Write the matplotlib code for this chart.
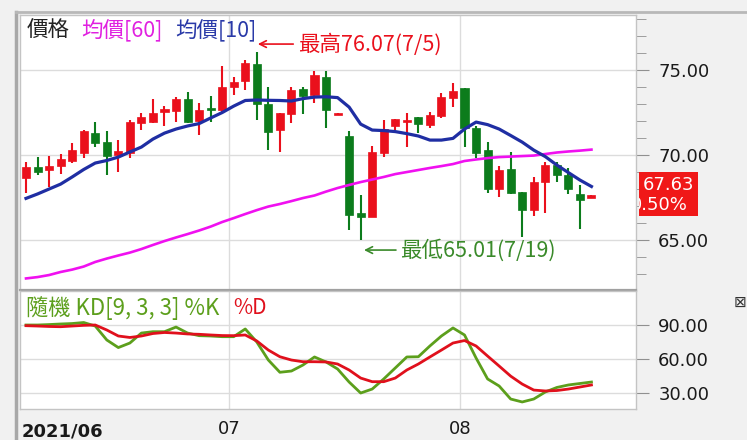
import matplotlib
matplotlib.use('Agg')
import matplotlib.pyplot as plt
from matplotlib.ticker import MultipleLocator, FixedLocator

#---------------------------------------------------
#----------------------- data ----------------------
#---------------------------------------------------
opens = [68.63, 69.28, 69.12, 69.34, 69.63, 70.12, 71.31, 70.79, 70.00, 70.10,
         71.90, 71.96, 72.51, 72.61, 73.28, 72.00, 72.76, 72.65, 74.02, 74.35,
         75.34, 72.98, 71.47, 72.41, 73.86, 73.53, 74.61, 72.38, 71.14, 66.61,
         66.37, 70.10, 71.71, 71.96, 72.25, 71.76, 72.29, 73.34, 73.92, 71.57,
         70.29, 68.00, 69.18, 67.84, 66.75, 68.43, 69.41, 68.82, 67.71, 67.45]
closes = [69.28, 69.00, 69.38, 69.79, 70.29, 71.43, 70.69, 69.94, 70.21, 71.96,
          72.25, 72.45, 72.71, 73.29, 71.96, 72.65, 72.65, 73.98, 74.31, 75.43,
          72.98, 71.37, 72.45, 73.82, 73.47, 74.71, 72.65, 72.44, 66.47, 66.37,
          70.19, 71.51, 72.10, 72.06, 71.82, 72.35, 73.43, 73.78, 71.57, 70.14,
          68.00, 69.12, 67.75, 66.75, 68.43, 69.41, 68.82, 67.98, 67.35, 67.63]
highs = [69.61, 69.88, 69.97, 70.08, 70.69, 71.47, 71.96, 71.43, 70.88, 72.06,
         72.49, 73.28, 72.88, 73.43, 73.72, 73.04, 73.47, 75.24, 74.61, 75.59,
         76.07, 74.02, 72.45, 74.02, 74.02, 74.94, 74.94, 72.47, 71.41, 67.65,
         70.53, 72.06, 72.10, 72.45, 72.25, 72.55, 73.66, 74.22, 73.92, 71.71,
         70.78, 69.35, 70.19, 67.84, 68.71, 69.59, 69.61, 69.22, 68.24, 67.63]
lows = [67.78, 68.82, 68.14, 68.88, 69.51, 69.81, 70.49, 68.82, 69.02, 69.82,
        71.47, 71.86, 71.71, 71.96, 71.90, 71.18, 71.96, 72.55, 73.53, 73.82,
        72.06, 70.29, 70.18, 71.90, 72.41, 73.04, 71.57, 72.35, 65.59, 65.01,
        66.37, 69.86, 71.47, 70.49, 71.31, 71.57, 72.16, 72.81, 70.45, 69.82,
        67.79, 67.55, 67.71, 65.15, 66.44, 66.57, 68.43, 67.71, 65.63, 67.45]

# moving averages
ma10 = [67.45, 67.71, 68.00, 68.29, 68.71, 69.15, 69.53, 69.68, 69.88, 70.18,
        70.47, 70.94, 71.29, 71.53, 71.71, 71.85, 72.18, 72.50, 72.88, 73.21,
        73.24, 73.22, 73.21, 73.18, 73.32, 73.41, 73.43, 73.38, 72.82, 71.82,
        71.47, 71.44, 71.38, 71.26, 71.12, 70.88, 70.88, 70.98, 71.53, 71.94,
        71.79, 71.53, 71.15, 70.76, 70.29, 69.91, 69.41, 68.97, 68.53, 68.15]
ma60 = [62.74, 62.82, 62.94, 63.12, 63.26, 63.44, 63.71, 63.91, 64.09, 64.26,
        64.47, 64.71, 64.94, 65.15, 65.35, 65.56, 65.79, 66.06, 66.29, 66.53,
        66.76, 66.97, 67.12, 67.29, 67.47, 67.62, 67.85, 68.06, 68.24, 68.41,
        68.56, 68.71, 68.88, 69.00, 69.12, 69.24, 69.35, 69.47, 69.65, 69.74,
        69.82, 69.88, 69.91, 69.94, 69.97, 70.06, 70.15, 70.21, 70.26, 70.32]

# stochastic KD[9,3,3]
k_line = [90.0, 90.0, 90.4, 90.9, 91.3, 92.2, 89.1, 76.8, 70.1, 74.1,
          82.9, 84.1, 84.1, 88.2, 82.9, 80.6, 80.3, 79.7, 79.7, 86.5,
          75.0, 59.1, 48.3, 49.4, 54.7, 61.8, 57.4, 51.2, 39.7, 30.0,
          33.5, 42.4, 52.1, 61.8, 62.0, 71.5, 80.3, 87.4, 81.2, 60.9,
          42.4, 36.2, 24.7, 22.1, 24.7, 30.9, 34.9, 37.1, 38.4, 39.7]
d_line = [89.4, 89.1, 88.7, 88.5, 89.1, 89.7, 90.0, 85.6, 80.3, 79.0,
          80.3, 82.5, 83.4, 82.9, 82.1, 81.8, 81.2, 80.7, 80.6, 81.2,
          75.9, 67.9, 62.0, 59.1, 57.6, 57.6, 57.4, 55.6, 50.3, 43.2,
          40.0, 40.0, 43.2, 50.3, 55.6, 61.8, 67.9, 74.1, 76.3, 71.5,
          62.6, 53.8, 44.9, 37.9, 32.6, 31.8, 32.2, 33.5, 35.3, 37.1]

# first candle index of each new month
month_first_idx = [18, 38]
month_labels = ['07', '08']
start_label = '2021/06'

price_ticks = [65, 70, 75]
kd_ticks = [30, 60, 90]

high_text = '最高76.07(7/5)'
low_text = '最低65.01(7/19)'
last_price = '67.63'
last_change = '0.50%'

#---------------------------------------------------
#---------------------- styles ---------------------
#---------------------------------------------------
W, H = 747, 440
RED = '#ea101c'
GREEN = '#0c7c1c'
BLUE = '#1f2ea3'
MAGENTA = '#f010f0'
K_GREEN = '#5c9f1c'
D_RED = '#e0101c'
GRID = '#dcdcdc'
CJK = ['Noto Sans CJK TC', 'DejaVu Sans']


def fx(x):
    return x / W


def fy(y):
    return 1 - y / H


fig = plt.figure(figsize=(W / 100, H / 100), dpi=100)
fig.patch.set_facecolor('#f1f1f1')

ax1 = fig.add_axes([fx(20), fy(290), fx(616), 275 / H])
ax2 = fig.add_axes([fx(20), fy(409), fx(616), 118 / H])

n = len(opens)
xs = list(range(n))
month_grid = [m - 0.4 for m in month_first_idx]

for ax in (ax1, ax2):
    ax.set_facecolor('white')
    ax.set_xlim(-0.52, 52.86)
    for s in ax.spines.values():
        s.set_color('#c4c4c4')
        s.set_linewidth(1)
    ax.yaxis.tick_right()
    ax.set_xticks([])
    for m in month_grid:
        ax.axvline(m, color=GRID, lw=1, zorder=0)
    ax.tick_params(axis='y', which='both', direction='out', colors='#909090',
                   labelcolor='#1a1a1a', labelsize=13, pad=7)
    ax.tick_params(axis='y', which='major', length=9)
    ax.tick_params(axis='y', which='minor', length=7)

ax1.spines['bottom'].set_color('#a0a0a0')
ax1.spines['bottom'].set_linewidth(1.6)

#----------------------- price panel ----------------------
ax1.set_ylim(62.06, 78.24)
ax1.yaxis.set_major_locator(FixedLocator(price_ticks))
ax1.yaxis.set_minor_locator(MultipleLocator(1))
ax1.set_yticklabels(['%.2f' % t for t in price_ticks])
for t in price_ticks:
    ax1.axhline(t, color=GRID, lw=1, zorder=0)

for i in xs:
    o, c, h, l = opens[i], closes[i], highs[i], lows[i]
    col = RED if c >= o else GREEN
    ax1.vlines(i, l, h, color=col, lw=1.5, zorder=2)
    body = max(abs(c - o), 0.09)
    ax1.bar(i, body, bottom=min(o, c), width=0.7, color=col, edgecolor=col,
            lw=0.5, zorder=3)

ax1.plot(xs, ma60, color=MAGENTA, lw=1.9, zorder=4)
ax1.plot(xs, ma10, color=BLUE, lw=2.3, zorder=5)

# high / low annotations
ax1.annotate('', xy=(19.85, 76.53), xytext=(23.4, 76.53),
             arrowprops=dict(arrowstyle='->', color=RED, lw=1.2, mutation_scale=12))
ax1.text(23.55, 76.53, high_text, color=RED, fontsize=15.5, family=CJK,
         va='center', ha='left')
ax1.annotate('', xy=(29.05, 64.41), xytext=(32.3, 64.41),
             arrowprops=dict(arrowstyle='->', color='#3a8a2a', lw=1.2, mutation_scale=12))
ax1.text(32.45, 64.41, low_text, color='#3a8a2a', fontsize=15.5, family=CJK,
         va='center', ha='left')

# legend texts
fig.text(fx(27), fy(31), '價格', color='#222222', fontsize=15.5, family=CJK, va='center')
fig.text(fx(81), fy(31), '均價[60]', color='#e020e0', fontsize=15.5, family=CJK, va='center')
fig.text(fx(175), fy(31), '均價[10]', color='#2a3aa8', fontsize=15.5, family=CJK, va='center')

#----------------------- KD panel ----------------------
ax2.set_ylim(15.9, 120)
ax2.yaxis.set_major_locator(FixedLocator(kd_ticks))
ax2.set_yticklabels(['%.2f' % t for t in kd_ticks])
for t in kd_ticks:
    ax2.axhline(t, color=GRID, lw=1, zorder=0)
ax2.plot(xs, k_line, color=K_GREEN, lw=2.0, zorder=3)
ax2.plot(xs, d_line, color=D_RED, lw=2.0, zorder=4)

fig.text(fx(26), fy(308), '隨機 KD[9, 3, 3] %K', color=K_GREEN, fontsize=16,
         family=CJK, va='center')
fig.text(fx(233), fy(308), '%D', color=D_RED, fontsize=15, family=CJK, va='center')

#----------------------- x labels ----------------------
fig.text(fx(22), fy(436), start_label, fontsize=13, fontweight='bold',
         color='#1a1a1a', va='baseline')
for m, lab in zip(month_grid, month_labels):
    xp = ax1.transData.transform((m, 0))[0]
    fig.text(xp / fig.bbox.width, fy(434), lab, fontsize=13, color='#1a1a1a',
             ha='center', va='baseline')

#----------------------- last price box ----------------------
box = fig.add_axes([fx(639), fy(216), fx(59), 44 / H])
box.set_facecolor('#f01818')
box.set_xlim(0, 1)
box.set_ylim(0, 1)
box.set_xticks([])
box.set_yticks([])
for s in box.spines.values():
    s.set_visible(False)
box.text(0.07, 0.70, last_price, color='white', fontsize=13, va='center',
         ha='left', clip_on=True)
box.text(-0.13, 0.26, last_change, color='white', fontsize=13, va='center',
         ha='left', clip_on=True)

# window frame lines and close icon
fig.add_artist(plt.Line2D([fx(16), fx(16)], [fy(12), fy(440)], color='#a8a8a8', lw=2.5))
fig.add_artist(plt.Line2D([fx(16), 1], [fy(12), fy(12)], color='#b8b8b8', lw=2))
fig.text(fx(740), fy(302), '⊠', fontsize=11, color='#333333', ha='center', va='center')

fig.savefig('out.png', dpi=100, facecolor=fig.get_facecolor())
